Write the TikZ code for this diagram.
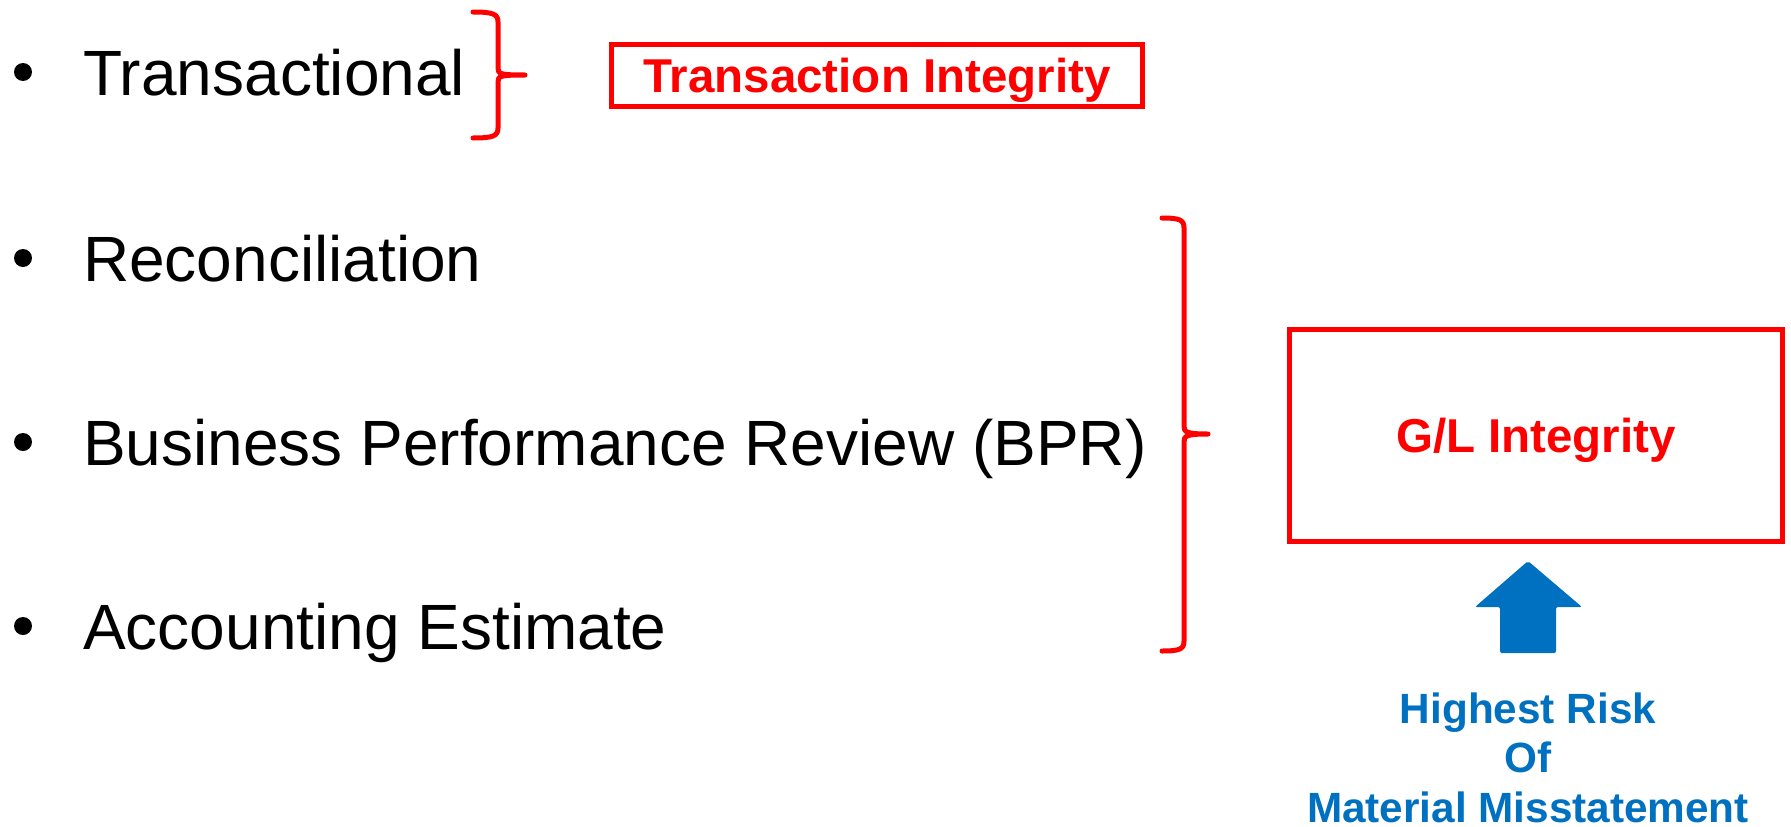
\documentclass[tikz,border=0pt]{standalone}
\usepackage{fontspec}
\setmainfont{Liberation Sans}
\definecolor{bred}{HTML}{FF0000}
\definecolor{bblue}{HTML}{0070C0}
\tikzset{
  item/.style={anchor=base west, inner sep=0pt, font=\fontsize{64}{77}\selectfont, text=black},
  bulletdot/.style={fill=black},
  bracepath/.style={draw=bred, line width=5pt, line cap=round, line join=round},
  redbox/.style={draw=bred, line width=5pt, inner sep=0pt, text=bred,
     font=\fontsize{47.5}{57}\selectfont\bfseries, text height=34pt, text depth=0pt, align=center},
  bluetext/.style={anchor=base, inner sep=0pt, text=bblue, font=\fontsize{42.3}{50}\selectfont\bfseries},
}
\begin{document}
\begin{tikzpicture}[x=1pt,y=-1pt]
\useasboundingbox (0,0) rectangle (1791,827);
% bullets
\fill[bulletdot] (23,72) circle (9);
\fill[bulletdot] (23,258) circle (9);
\fill[bulletdot] (23,442) circle (9);
\fill[bulletdot] (23,626) circle (9);
\node[item] (t1) at (83,95) {Transactional};
\node[item] (t2) at (83,281) {Reconciliation};
\node[item] (t3) at (83,465) {Business Performance Review (BPR)};
\node[item] (t4) at (83,649) {Accounting Estimate};
% brace 1
\draw[bracepath] (473,12) .. controls (493,12) and (498,14) .. (498,22) -- (498,68)
  .. controls (498,74) and (500,75) .. (525,75)
  .. controls (500,75) and (498,76) .. (498,82) -- (498,128)
  .. controls (498,136) and (493,138) .. (473,138);
% brace 2
\draw[bracepath] (1162,218) .. controls (1180,218) and (1184,220) .. (1184,228) -- (1184,426)
  .. controls (1184,432) and (1186,434) .. (1208,434)
  .. controls (1186,434) and (1184,436) .. (1184,442) -- (1184,641)
  .. controls (1184,649) and (1180,651) .. (1162,651);
% boxes
\node[redbox, minimum width=531pt, minimum height=62pt] (ti) at (877,75.5) {Transaction Integrity};
\node[redbox, minimum width=493pt, minimum height=212pt] (gl) at (1536,435.5) {G/L Integrity};
% arrow
\fill[bblue, rounded corners=2pt] (1528,561) -- (1582,607) -- (1556,607) -- (1556,653)
  -- (1500,653) -- (1500,607) -- (1475,607) -- cycle;
% text under arrow
\node[bluetext] (h1) at (1528,723) {Highest Risk};
\node[bluetext] (h2) at (1528,772) {Of};
\node[bluetext] (h3) at (1528,822) {Material Misstatement};
\end{tikzpicture}
\end{document}
